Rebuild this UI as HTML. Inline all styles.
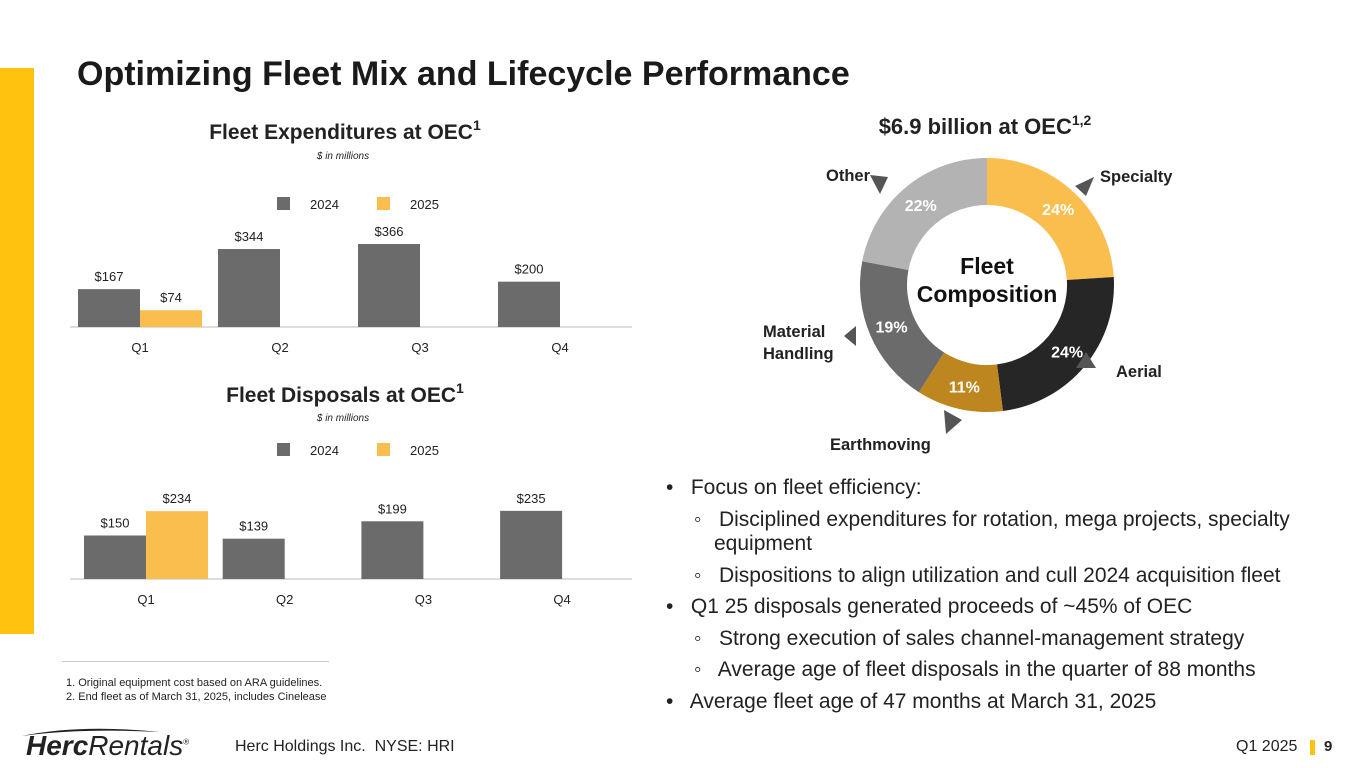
<!DOCTYPE html>
<html><head><meta charset="utf-8"><style>
body{margin:0;width:1365px;height:768px;background:#fff;font-family:"Liberation Sans",Arial,sans-serif;position:relative;overflow:hidden}
.a{position:absolute;white-space:nowrap}
svg text{font-family:"Liberation Sans",Arial,sans-serif}
</style></head><body>
<div class="a" style="left:0;top:68px;width:34px;height:566px;background:#FFC20E"></div>
<div class="a" style="left:77px;top:55px;font-size:34px;font-weight:bold;color:#1a1a1a">Optimizing Fleet Mix and Lifecycle Performance</div>

<svg class="a" style="left:0;top:0" width="660" height="620" id="bars"></svg>

<svg class="a" style="left:740px;top:100px" width="480" height="360" id="donut"></svg>

<div class="a" style="left:666px;top:472px;font-size:21px;color:#222;line-height:31.5px">
<div>•&nbsp;&nbsp; Focus on fleet efficiency:</div>
<div style="padding-left:28px">◦&nbsp;&nbsp; Disciplined expenditures for rotation, mega projects, specialty</div>
<div style="padding-left:48px;margin-top:-7px">equipment</div>
<div style="padding-left:28px">◦&nbsp;&nbsp; Dispositions to align utilization and cull 2024 acquisition fleet</div>
<div>•&nbsp;&nbsp; Q1 25 disposals generated proceeds of ~45% of OEC</div>
<div style="padding-left:28px">◦&nbsp;&nbsp; Strong execution of sales channel-management strategy</div>
<div style="padding-left:28px">◦&nbsp;&nbsp; Average age of fleet disposals in the quarter of 88 months</div>
<div>•&nbsp;&nbsp; Average fleet age of 47 months at March 31, 2025</div>
</div>

<div class="a" style="left:62px;top:661px;width:267px;height:1px;background:#ccc"></div>
<div class="a" style="left:66px;top:676px;font-size:11px;color:#222;line-height:14px">1. Original equipment cost based on ARA guidelines.<br>2. End fleet as of March 31, 2025, includes Cinelease</div>

<div class="a" style="left:26px;top:730px;font-size:28px;color:#222"><svg class="a" style="left:-6px;top:-4px" width="160" height="12"><path d="M2 10 Q60 -2 140 6 Q60 2 2 10Z" fill="#222"/></svg><i><b>Herc</b>Rentals</i><sup style="font-size:8px">®</sup></div>
<div class="a" style="left:235px;top:738px;font-size:16px;color:#222">Herc Holdings Inc.&nbsp; NYSE: HRI</div>
<div class="a" style="left:1236px;top:738px;font-size:16px;color:#222">Q1 2025</div>
<div class="a" style="left:1310px;top:740px;width:5px;height:15px;background:#FFC20E"></div>
<div class="a" style="left:1324px;top:738px;font-size:15px;font-weight:bold;color:#222">9</div>

<script>
const NS="http://www.w3.org/2000/svg";
const quarters=["Q1","Q2","Q3","Q4"];
const exp2024=[167,344,366,200];
const exp2025=[74,null,null,null];
const disp2024=[150,139,199,235];
const disp2025=[234,null,null,null];
const donutLabels=["Specialty","Aerial","Earthmoving","Material Handling","Other"];
const donutValues=[24,24,11,19,22];
function mk(p,t,a,txt){const e=document.createElementNS(NS,t);for(const k in a)e.setAttribute(k,a[k]);if(txt!==undefined)e.textContent=txt;p.appendChild(e);return e;}
const B=document.getElementById('bars');
function chart(cfg){
  const {title,titleY,unitY,legY,base,x0,cw,scale,a,b,off}=cfg;
  let t=mk(B,'text',{x:345,y:titleY,'text-anchor':'middle','font-size':21,'font-weight':'bold',fill:'#222'});
  
  
  t.textContent=title;
  mk(t,'tspan',{dy:-9,'font-size':14},'1');
  let u=mk(B,'text',{x:343,y:unitY,'text-anchor':'middle','font-size':10,'font-style':'italic',fill:'#222'},'$ in millions');
  
  
  [[277,'#6b6b6b','2024'],[377,'#F9BE4E','2025']].forEach(([lx,c,l])=>{
    let r=mk(B,'rect',{x:lx,y:legY-7,width:13,height:13,fill:c});
    
    
    let lt=mk(B,'text',{x:lx+33,y:legY+5,'font-size':13,fill:'#222'},l);
    
    
  });
  let ax=mk(B,'line',{x1:70,x2:632,y1:base,y2:base,stroke:'#bbb'});
  
  
  quarters.forEach((q,i)=>{
    const cx=x0+i*cw;
    [[a[i],'#6b6b6b',cx+off],[b[i],'#F9BE4E',cx+off+62]].forEach(([v,c,bx],j)=>{
      if(v==null)return;
      const h=v*scale;
      let r=mk(B,'rect',{x:bx,y:base-h,width:62,height:h,fill:c});
      
      
      let vt=mk(B,'text',{x:bx+31,y:base-h-8,'text-anchor':'middle','font-size':13,fill:'#222'},'$'+v);
      
      
    });
    let ql=mk(B,'text',{x:cx+off+62,y:base+25,'text-anchor':'middle','font-size':13,fill:'#222'},q);
    
    
  });
}
chart({title:'Fleet Expenditures at OEC',titleY:139,unitY:159,legY:204,base:327,x0:70,cw:140,scale:0.2267,a:exp2024,b:exp2025,off:8});
chart({title:'Fleet Disposals at OEC',titleY:402,unitY:421,legY:450,base:579,x0:84,cw:138.7,scale:0.29,a:disp2024,b:disp2025,off:0});

const D=document.getElementById('donut');
const cx=247,cy=185,R=127,r=80;
let tt=mk(D,'text',{x:245,y:34,'text-anchor':'middle','font-size':22,'font-weight':'bold',fill:'#222'});


tt.textContent='$6.9 billion at OEC';
mk(tt,'tspan',{dy:-9,'font-size':14},'1,2');
const colors=['#F9BE4E','#262626','#BE861E','#6b6b6b','#b3b3b3'];
const total=donutValues.reduce((s,v)=>s+v,0);
let acc=0;
const P=(a,rad)=>[cx+rad*Math.sin(a),cy-rad*Math.cos(a)];
donutValues.forEach((v,i)=>{
  const a0=acc/total*2*Math.PI;acc+=v;const a1=acc/total*2*Math.PI;
  const lg=(a1-a0)>Math.PI?1:0;
  const [x1,y1]=P(a0,R),[x2,y2]=P(a1,R),[x3,y3]=P(a1,r),[x4,y4]=P(a0,r);
  let s=mk(D,'path',{d:`M${x1} ${y1}A${R} ${R} 0 ${lg} 1 ${x2} ${y2}L${x3} ${y3}A${r} ${r} 0 ${lg} 0 ${x4} ${y4}Z`,fill:colors[i]});
  
  
  const am=(a0+a1)/2;const [lx,ly]=P(am,104);
  let pt=mk(D,'text',{x:lx,y:ly+6,'text-anchor':'middle','font-size':16,'font-weight':'bold',fill:'#fff'},v+'%');
  
  
});
let c1=mk(D,'text',{x:cx,y:174,'text-anchor':'middle','font-size':23,'font-weight':'bold',fill:'#111'},'Fleet');


let c2=mk(D,'text',{x:cx,y:202,'text-anchor':'middle','font-size':23,'font-weight':'bold',fill:'#111'},'Composition');


const lab=[["Specialty",360,82],["Aerial",376,277],["Earthmoving",90,350],["Material",23,237],["Handling",23,259],["Other",86,81]];
lab.forEach(([t,x,y])=>{
  let e=mk(D,'text',{x,y,'font-size':16.5,'font-weight':'bold',fill:'#222'},t);
  
  
});
const tri=[[335,86,354,77,346,96],[346,252,356,268,336,268],[204,310,222,320,206,334],[104,236,116,226,116,246],[130,75,148,77,140,94]];
tri.forEach(p=>{
  let e=mk(D,'polygon',{points:`${p[0]},${p[1]} ${p[2]},${p[3]} ${p[4]},${p[5]}`,fill:'#555'});
  
  
});
</script>
</body></html>
